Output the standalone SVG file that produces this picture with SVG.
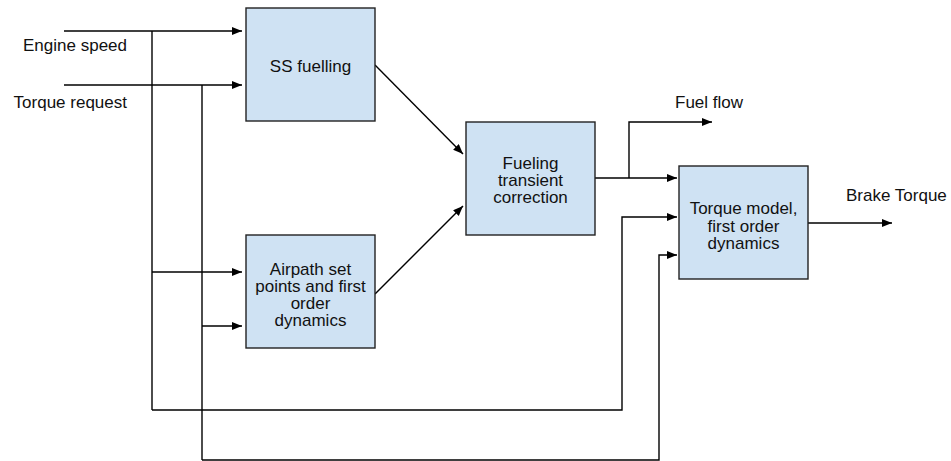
<svg xmlns="http://www.w3.org/2000/svg" width="951" height="461" viewBox="0 0 951 461">
<style>
.box{fill:#cfe2f3;stroke:#222;stroke-width:1.4}
.ln{fill:none;stroke:#000;stroke-width:1.4}
.t{font-family:"Liberation Sans",Arial,sans-serif;font-size:17px;fill:#111}
.c{text-anchor:middle}
</style>
<defs>
<marker id="ah" markerUnits="userSpaceOnUse" markerWidth="11" markerHeight="9" refX="10" refY="4" orient="auto" viewBox="0 0 11 9">
<path d="M0,0 L10,4 L0,8 z" fill="#000"/>
</marker>
</defs>
<rect width="951" height="461" fill="#fff"/>
<g id="connectors">
<path class="ln" marker-end="url(#ah)" d="M64,31 H242"/>
<path class="ln" marker-end="url(#ah)" d="M64,85 H242"/>
<path class="ln" d="M152,31 V410"/>
<path class="ln" d="M202,85 V460"/>
<path class="ln" marker-end="url(#ah)" d="M152,272 H242"/>
<path class="ln" marker-end="url(#ah)" d="M202,326 H242"/>
<path class="ln" marker-end="url(#ah)" d="M375,65 L463,154"/>
<path class="ln" marker-end="url(#ah)" d="M375,294 L463,206"/>
<path class="ln" marker-end="url(#ah)" d="M595,178 H677"/>
<path class="ln" marker-end="url(#ah)" d="M629,178 V122 H712"/>
<path class="ln" marker-end="url(#ah)" d="M152,410 H622 V217 H677"/>
<path class="ln" marker-end="url(#ah)" d="M202,460 H659 V255 H677"/>
<path class="ln" marker-end="url(#ah)" d="M808,223 H892"/>
</g>
<g id="labels">
<text class="t" x="127" y="51" text-anchor="end">Engine speed</text>
<text class="t" x="127" y="108" text-anchor="end">Torque request</text>
<text class="t" x="675" y="108">Fuel flow</text>
<text class="t" x="846" y="201">Brake Torque</text>
</g>
<g id="ss-fuelling">
<rect class="box" x="246" y="8" width="129" height="113"/>
<text class="t c" x="310.5" y="72">SS fuelling</text>
</g>
<g id="airpath">
<rect class="box" x="246" y="235" width="129" height="113"/>
<text class="t c" x="310.5" y="275">Airpath set</text>
<text class="t c" x="310.5" y="292">points and first</text>
<text class="t c" x="310.5" y="309">order</text>
<text class="t c" x="310.5" y="326">dynamics</text>
</g>
<g id="fueling-transient">
<rect class="box" x="466" y="122" width="129" height="113"/>
<text class="t c" x="530.5" y="169">Fueling</text>
<text class="t c" x="530.5" y="186">transient</text>
<text class="t c" x="530.5" y="203">correction</text>
</g>
<g id="torque-model">
<rect class="box" x="679" y="166" width="129" height="113"/>
<text class="t c" x="743.5" y="214">Torque model,</text>
<text class="t c" x="743.5" y="231.5">first order</text>
<text class="t c" x="743.5" y="249">dynamics</text>
</g>
</svg>
